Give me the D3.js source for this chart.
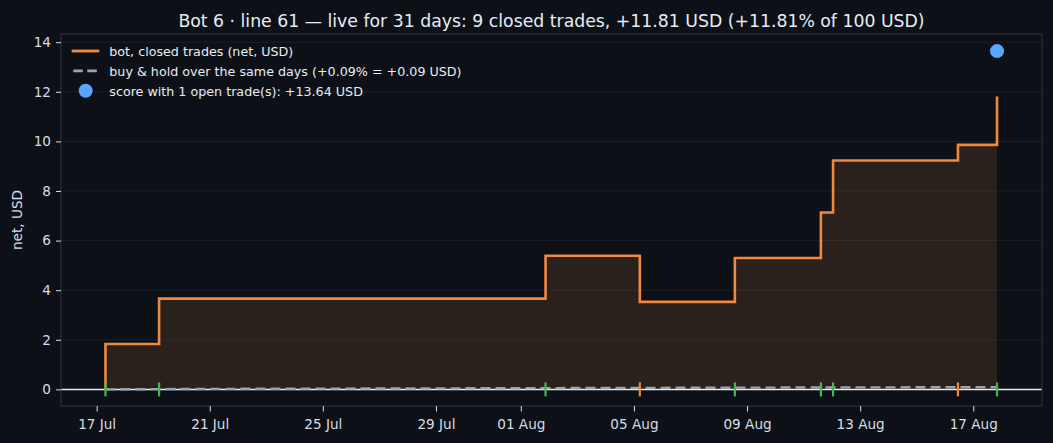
<!DOCTYPE html>
<html>
<head>
<meta charset="utf-8">
<script src="https://cdn.jsdelivr.net/npm/d3@7"></script>
<style>
  html, body { margin: 0; padding: 0; background: #0d1117; }
  svg { display: block; font-family: "DejaVu Sans", sans-serif; }
</style>
</head>
<body>
<div id="chart"></div>
<script>
const width = 1053,
      height = 443,
      margin = {top: 34, right: 11, bottom: 37, left: 61};

// closed trades: close time (UTC) and cumulative net USD after the close
const tradeTimes = ["2025-07-17T07:30", "2025-07-19T05:00", "2025-08-01T21:00",
                    "2025-08-05T05:00", "2025-08-08T13:40", "2025-08-11T14:40",
                    "2025-08-12T01:00", "2025-08-16T11:00", "2025-08-17T20:10"];
const tradeNet = [1.83, 3.66, 5.39, 3.53, 5.30, 7.13, 9.23, 9.86, 11.81];
const tradeMarks = ["win", "win", "win", "loss", "win", "win", "win", "loss", "win"];

// buy & hold over the same days (USD)
const holdTimes = ["2025-07-17T07:30", "2025-07-21T00:00", "2025-07-29T00:00",
                   "2025-08-05T00:00", "2025-08-13T00:00", "2025-08-17T20:10"];
const holdNet = [0.00, 0.02, 0.04, 0.06, 0.08, 0.09];

// score with the open trade
const openTime = "2025-08-17T20:10";
const openScore = 13.64;

const xTickDates = ["2025-07-17", "2025-07-21", "2025-07-25", "2025-07-29", "2025-08-01",
                    "2025-08-05", "2025-08-09", "2025-08-13", "2025-08-17"];
const yTicks = [0, 2, 4, 6, 8, 10, 12, 14];

const parse = d3.utcParse("%Y-%m-%dT%H:%M");
const parseDay = d3.utcParse("%Y-%m-%d");
const fmt = d3.utcFormat("%d %b");

const colors = {orange: "#f0883e", green: "#3fb950", blue: "#58a6ff", grey: "#9aa3ae",
                text: "#e6edf3", tick: "#d6dde4", spine: "#30363d", grid: "#1a1f27"};

const x = d3.scaleUtc()
  .domain([parse("2025-07-15T17:45"), parse("2025-08-19T10:20")])
  .range([margin.left, width - margin.right]);

const y = d3.scaleLinear()
  .domain([-0.67, 14.33])
  .range([height - margin.bottom, margin.top]);

const svg = d3.select("#chart").append("svg")
  .attr("width", width)
  .attr("height", height);

svg.append("rect").attr("width", width).attr("height", height).attr("fill", "#0d1117");

// grid
svg.append("g")
  .selectAll("line")
  .data(yTicks)
  .enter().append("line")
  .attr("x1", margin.left).attr("x2", width - margin.right)
  .attr("y1", d => y(d)).attr("y2", d => y(d))
  .attr("stroke", colors.grid).attr("stroke-width", 1);

// step data: start at the first close with 0
const steps = [{t: parse(tradeTimes[0]), v: 0}]
  .concat(tradeTimes.map((t, i) => ({t: parse(t), v: tradeNet[i]})));

const area = d3.area()
  .curve(d3.curveStepAfter)
  .x(d => x(d.t)).y0(y(0)).y1(d => y(d.v));

svg.append("path")
  .datum(steps)
  .attr("d", area)
  .attr("fill", colors.orange)
  .attr("fill-opacity", 0.13);

// zero line
svg.append("line")
  .attr("x1", margin.left).attr("x2", width - margin.right)
  .attr("y1", y(0)).attr("y2", y(0))
  .attr("stroke", "#e6edf3").attr("stroke-width", 1.5);

// buy & hold
const hold = holdTimes.map((t, i) => ({t: parse(t), v: holdNet[i]}));
svg.append("path")
  .datum(hold)
  .attr("d", d3.line().x(d => x(d.t)).y(d => y(d.v)))
  .attr("fill", "none")
  .attr("stroke", colors.grey)
  .attr("stroke-width", 2.4)
  .attr("stroke-dasharray", "10,5");

// bot step line
svg.append("path")
  .datum(steps)
  .attr("d", d3.line().curve(d3.curveStepAfter).x(d => x(d.t)).y(d => y(d.v)))
  .attr("fill", "none")
  .attr("stroke", colors.orange)
  .attr("stroke-width", 2.6);

// trade markers on the zero line
svg.append("g")
  .selectAll("line")
  .data(tradeTimes)
  .enter().append("line")
  .attr("x1", d => x(parse(d))).attr("x2", d => x(parse(d)))
  .attr("y1", y(0) - 7).attr("y2", y(0) + 7)
  .attr("stroke", (d, i) => tradeMarks[i] === "win" ? colors.green : colors.orange)
  .attr("stroke-width", 2.2);

// open score dot
svg.append("circle")
  .attr("cx", x(parse(openTime)))
  .attr("cy", y(openScore))
  .attr("r", 7)
  .attr("fill", colors.blue);

// spines
svg.append("rect")
  .attr("x", margin.left).attr("y", margin.top)
  .attr("width", width - margin.left - margin.right)
  .attr("height", height - margin.top - margin.bottom)
  .attr("fill", "none")
  .attr("stroke", colors.spine)
  .attr("stroke-width", 1);

// axes
const xAxis = svg.append("g")
  .attr("transform", `translate(0, ${height - margin.bottom})`)
  .call(d3.axisBottom(x)
    .tickValues(xTickDates.map(parseDay))
    .tickFormat(fmt)
    .tickSize(5.5)
    .tickPadding(7.5));

const yAxis = svg.append("g")
  .attr("transform", `translate(${margin.left}, 0)`)
  .call(d3.axisLeft(y)
    .tickValues(yTicks)
    .tickFormat(d3.format("d"))
    .tickSize(5)
    .tickPadding(5));

[xAxis, yAxis].forEach(g => {
  g.select(".domain").remove();
  g.selectAll(".tick line").attr("stroke", colors.tick);
  g.selectAll(".tick text")
    .attr("fill", colors.tick)
    .style("font-size", "13.6px")
    .style("font-family", "DejaVu Sans");
});

// y label
svg.append("text")
  .attr("transform", `translate(22, ${(margin.top + height - margin.bottom) / 2}) rotate(-90)`)
  .attr("text-anchor", "middle")
  .attr("fill", colors.tick)
  .style("font-size", "13.6px")
  .text("net, USD");

// title
svg.append("text")
  .attr("x", (margin.left + width - margin.right) / 2)
  .attr("y", 26.5)
  .attr("text-anchor", "middle")
  .attr("fill", colors.text)
  .style("font-size", "17.3px")
  .text("Bot 6 · line 61 — live for 31 days: 9 closed trades, +11.81 USD (+11.81% of 100 USD)");

// legend
const legendItems = [
  {label: "bot, closed trades (net, USD)", kind: "line"},
  {label: "buy & hold over the same days (+0.09% = +0.09 USD)", kind: "dash"},
  {label: "score with 1 open trade(s): +13.64 USD", kind: "dot"}
];

const legend = svg.append("g")
  .selectAll(".legend-item")
  .data(legendItems)
  .enter().append("g")
  .attr("class", "legend-item")
  .attr("transform", (d, i) => `translate(71.7, ${51 + i * 19.85})`);

legend.filter(d => d.kind === "line")
  .append("line")
  .attr("x1", 0).attr("x2", 27.6)
  .attr("stroke", colors.orange)
  .attr("stroke-width", 2.8);

legend.filter(d => d.kind === "dash")
  .append("line")
  .attr("x1", 1.6).attr("x2", 25.6)
  .attr("stroke", colors.grey)
  .attr("stroke-width", 2.8)
  .attr("stroke-dasharray", "9.5,4.5");

legend.filter(d => d.kind === "dot")
  .append("circle")
  .attr("cx", 14).attr("r", 7)
  .attr("fill", colors.blue);

legend.append("text")
  .attr("x", 37.6)
  .attr("y", 5)
  .attr("fill", colors.text)
  .style("font-size", "12.7px")
  .text(d => d.label);
</script>
</body>
</html>
